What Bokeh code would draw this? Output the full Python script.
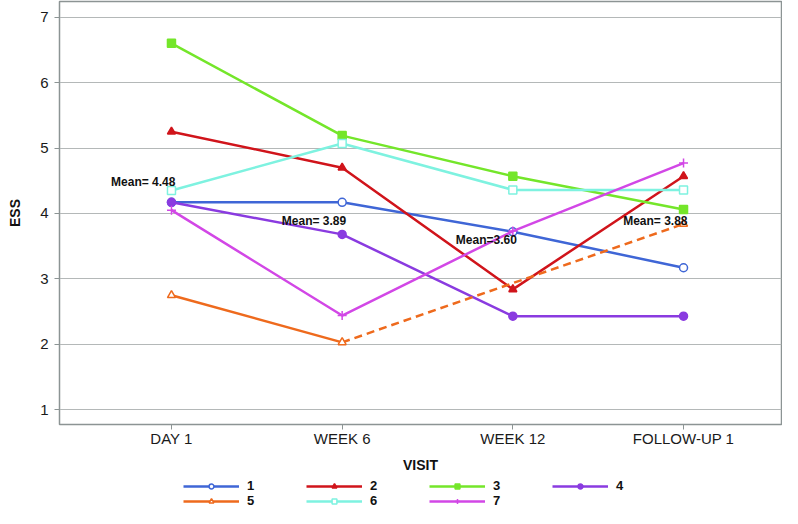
import math
from bokeh.plotting import figure
from bokeh.models import Legend, LegendItem, FixedTicker, Range1d
from bokeh.layouts import column
from bokeh.core.properties import value
from bokeh.embed import file_html
from bokeh.resources import INLINE

visits = ["DAY 1", "WEEK 6", "WEEK 12", "FOLLOW-UP 1"]
nan = float("nan")
s1 = [4.17, 4.17, 3.72, 3.17]
s2 = [5.25, 4.70, 2.84, 4.57]
s3 = [6.60, 5.19, 4.57, 4.06]
s4 = [4.17, 3.68, 2.43, 2.43]
s5 = [2.75, 2.03, nan, 3.84]
s6 = [4.35, 5.07, 4.36, 4.36]
s7 = [4.05, 2.44, 3.73, 4.77]
series_names = ["1", "2", "3", "4", "5", "6", "7"]
means = [4.48, 3.89, 3.60, 3.88]
mean_labels = ["Mean= 4.48", "Mean= 3.89", "Mean=3.60", "Mean= 3.88"]

series = [s1, s2, s3, s4, s5, s6, s7]
colors = ["#3f66d6", "#d0141b", "#74e62a", "#8a3be0", "#ee6a1d", "#7ef2e0", "#d247e6"]
markers = ["circle", "triangle", "square", "circle", "triangle", "square", "cross"]
filled = [False, True, True, True, False, False, True]

FONT = "Liberation Sans"
GRID = "#b4b8b8"
FRAME = "#8c9494"

xs = list(range(len(visits)))

p = figure(width=782, height=475, output_backend="svg", toolbar_location=None,
           x_range=Range1d(-0.656, 3.574), y_range=Range1d(0.774, 7.24),
           min_border_left=59, min_border_right=1, min_border_top=1, min_border_bottom=0)
p.outline_line_color = FRAME
p.outline_line_width = 1.5
p.background_fill_color = "white"

p.xgrid.grid_line_color = None
p.ygrid.grid_line_color = GRID
p.ygrid.grid_line_width = 1.2

p.yaxis.ticker = FixedTicker(ticks=[1, 2, 3, 4, 5, 6, 7])
p.xaxis.ticker = FixedTicker(ticks=xs)
p.xaxis.major_label_overrides = {i: v for i, v in enumerate(visits)}
for ax in (p.xaxis, p.yaxis):
    ax.axis_line_color = FRAME
    ax.major_tick_line_color = FRAME
    ax.minor_tick_line_color = None
    ax.major_tick_in = 0
    ax.major_tick_out = 5
    ax.major_label_text_font = FONT
    ax.major_label_text_font_size = "15px"
    ax.major_label_text_color = "#1a1a1a"
    ax.axis_label_text_font = FONT
    ax.axis_label_text_font_size = "14px"
    ax.axis_label_text_font_style = "bold"
    ax.axis_label_text_color = "#111111"
p.yaxis.axis_label = "ESS"
p.xaxis.axis_label = "VISIT"
p.yaxis.major_label_standoff = 6
p.yaxis.axis_label_standoff = 14
p.xaxis.major_label_standoff = 0
p.xaxis.axis_label_standoff = 7

for name, ys, c, m, f in zip(series_names, series, colors, markers, filled):
    p.line(xs, ys, line_color=c, line_width=2.5)
    # dashed connection across missing values
    valid = [i for i, v in enumerate(ys) if not math.isnan(v)]
    for a, b in zip(valid[:-1], valid[1:]):
        if b - a > 1:
            p.line([xs[a], xs[b]], [ys[a], ys[b]], line_color=c, line_width=2.5, line_dash="8 5")
    vx = [xs[i] for i in valid]
    vy = [ys[i] for i in valid]
    p.scatter(vx, vy, marker=m, size=9 if m == "cross" else 8, line_color=c, line_width=1.5,
              fill_color=c if f else "white")

p.text(x=xs, y=means, text=mean_labels, text_align="right", text_baseline="middle",
       x_offset=4, text_font=value(FONT), text_font_size="12px", text_font_style="bold",
       text_color="#111111")

# legend panel (its renderers use the series data but lie outside its view)
lg = figure(width=782, height=33, output_backend="svg", toolbar_location=None,
            x_range=Range1d(100, 101), y_range=Range1d(100, 101),
            min_border_left=0, min_border_right=0, min_border_top=0, min_border_bottom=0)
lg.axis.visible = False
lg.grid.grid_line_color = None
lg.outline_line_color = None

items = []
for name, ys, c, m, f in zip(series_names, series, colors, markers, filled):
    r_line = lg.line(x=xs, y=ys, line_color=c, line_width=2.5)
    r_mark = lg.scatter(x=xs, y=ys, marker=m, size=6, line_color=c,
                        line_width=1.5, fill_color=c if f else "white")
    items.append(LegendItem(label=name, renderers=[r_line, r_mark]))

legend = Legend(items=items, orientation="horizontal", ncols=4, location=(124, 0),
                label_text_font=FONT, label_text_font_size="13px", label_text_font_style="bold",
                label_text_color="#111111", glyph_width=56, glyph_height=12,
                label_height=12, label_width=59, label_standoff=8, spacing=0,
                padding=0, margin=0, border_line_color=None, background_fill_alpha=0)
lg.add_layout(legend)

layout = column(p, lg, spacing=0)
open("out.html", "w").write(file_html(layout, INLINE))
